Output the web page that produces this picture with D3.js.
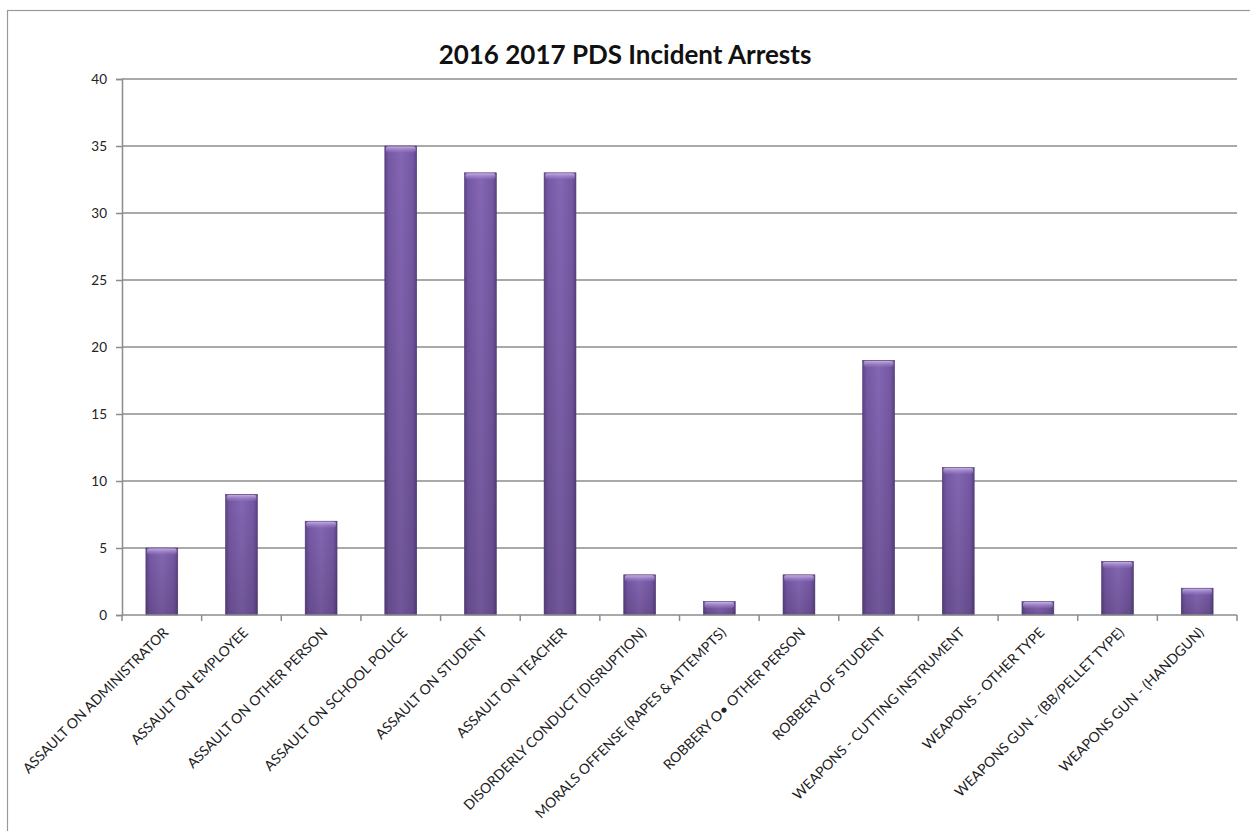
<!DOCTYPE html>
<html><head><meta charset="utf-8">
<script src="https://cdn.jsdelivr.net/npm/d3@7"></script>
<style>body{margin:0;background:#fff}svg{display:block}</style>
</head><body>
<script>
const categories = ["ASSAULT ON ADMINISTRATOR","ASSAULT ON EMPLOYEE","ASSAULT ON OTHER PERSON","ASSAULT ON SCHOOL POLICE","ASSAULT ON STUDENT","ASSAULT ON TEACHER","DISORDERLY CONDUCT (DISRUPTION)","MORALS OFFENSE (RAPES & ATTEMPTS)","ROBBERY O\u2022 OTHER PERSON","ROBBERY OF STUDENT","WEAPONS - CUTTING INSTRUMENT","WEAPONS - OTHER TYPE","WEAPONS GUN - (BB/PELLET TYPE)","WEAPONS GUN - (HANDGUN)"];
const arrests = [5,9,7,35,33,33,3,1,3,19,11,1,4,2];
const yTicks = [0,5,10,15,20,25,30,35,40];
const title = "2016 2017 PDS Incident Arrests";

const W=1250,H=831;
const svg=d3.select("body").append("svg").attr("width",W).attr("height",H);
const defs=svg.append("defs");
const g1=defs.append("linearGradient").attr("id","barG").attr("x1","0").attr("x2","1").attr("y1","0").attr("y2","0");
g1.append("stop").attr("offset","0").attr("stop-color","#5d4488");
g1.append("stop").attr("offset","0.12").attr("stop-color","#7558a3");
g1.append("stop").attr("offset","0.5").attr("stop-color","#8466b3");
g1.append("stop").attr("offset","0.88").attr("stop-color","#7558a3");
g1.append("stop").attr("offset","1").attr("stop-color","#5a4285");
const g2=defs.append("linearGradient").attr("id","capG").attr("x1","0").attr("x2","0").attr("y1","0").attr("y2","1");
g2.append("stop").attr("offset","0").attr("stop-color","#c7b3e8").attr("stop-opacity",0.95);
g2.append("stop").attr("offset","1").attr("stop-color","#9a7fc8").attr("stop-opacity",0.2);
const g3=defs.append("linearGradient").attr("id","shadeG").attr("x1","0").attr("x2","0").attr("y1","0").attr("y2","1");
g3.append("stop").attr("offset","0").attr("stop-color","#000").attr("stop-opacity",0);
g3.append("stop").attr("offset","1").attr("stop-color","#000").attr("stop-opacity",0.15);

// frame
svg.append("rect").attr("x",7.5).attr("y",10.5).attr("width",1260).attr("height",840).attr("fill","none").attr("stroke","#9a9a9a").attr("stroke-width",1.2);

const L=122,R=1237,T=79,B=615;
const x=d3.scaleBand().domain(categories).range([L,R]).paddingInner(0.6).paddingOuter(0.3);
const y=d3.scaleLinear().domain([0,40]).range([B,T]);

// grid
svg.append("g").selectAll("line").data(yTicks.filter(d=>d>0)).join("line")
  .attr("x1",L).attr("x2",R).attr("y1",d=>y(d)).attr("y2",d=>y(d))
  .attr("stroke","#8c8c8c").attr("stroke-width",1.5);

// y axis
const ya=svg.append("g").attr("transform",`translate(${L},0)`)
  .call(d3.axisLeft(y).tickValues(yTicks).tickSize(6).tickPadding(9));
ya.select(".domain").attr("stroke","#8c8c8c").attr("stroke-width",1.5);
ya.selectAll(".tick line").attr("stroke","#8c8c8c").attr("stroke-width",1.5);
ya.selectAll("text").attr("font-family","Lato, 'Open Sans', sans-serif").attr("font-size",13.5).attr("fill","#222");

// bars
const bars=svg.append("g");
categories.forEach((c,i)=>{
  const bx=x(c),bw=x.bandwidth(),by=y(arrests[i]),bh=B-by;
  bars.append("rect").attr("x",bx).attr("y",by).attr("width",bw).attr("height",bh).attr("fill","url(#barG)").attr("stroke","#4e3a72").attr("stroke-width",0.6);
  bars.append("rect").attr("x",bx).attr("y",by).attr("width",bw).attr("height",bh).attr("fill","url(#shadeG)");
  bars.append("rect").attr("x",bx+1).attr("y",by+0.5).attr("width",bw-2).attr("height",Math.min(6,bh-0.5)).attr("rx",2).attr("fill","url(#capG)");
});

// x axis
const edges=d3.range(categories.length+1).map(i=>L+i*(R-L)/categories.length);
svg.append("line").attr("x1",L).attr("x2",R).attr("y1",B).attr("y2",B).attr("stroke","#8c8c8c").attr("stroke-width",1.5);
svg.append("g").selectAll("line").data(edges).join("line")
  .attr("x1",d=>d).attr("x2",d=>d).attr("y1",B).attr("y2",B+6).attr("stroke","#8c8c8c").attr("stroke-width",1.5);
svg.append("g").selectAll("text").data(categories).join("text")
  .attr("transform",d=>`translate(${x(d)+x.bandwidth()/2+4},${B+15}) rotate(-45)`)
  .attr("text-anchor","end").attr("dy","0.35em")
  .attr("font-family","Lato, 'Open Sans', sans-serif").attr("font-size",14).attr("fill","#222")
  .text(d=>d);

svg.append("text").attr("x",625).attr("y",64).attr("text-anchor","middle")
  .attr("font-family","Lato, 'Open Sans', sans-serif").attr("font-weight","bold").attr("font-size",26).attr("fill","#111")
  .text(title);
</script>
</body></html>
